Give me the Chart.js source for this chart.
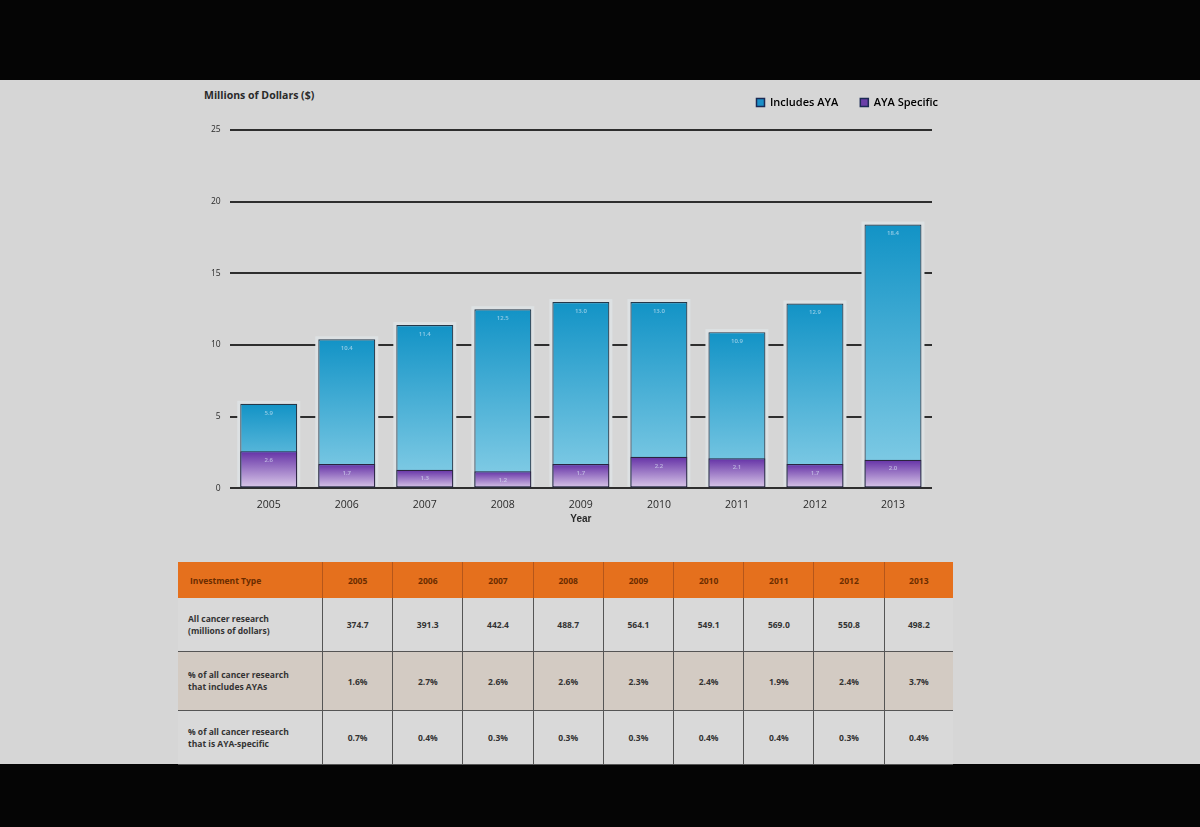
<!DOCTYPE html>
<html>
<head>
<meta charset="utf-8">
<script src="https://cdn.jsdelivr.net/npm/chart.js@4.4.1/dist/chart.umd.min.js"></script>
<style>
  body { margin: 0; background: #050505; width: 1200px; height: 827px; overflow: hidden; font-family: "Open Sans", "Noto Sans", sans-serif; }
  #slide { position: absolute; left: 0; top: 80px; width: 1200px; height: 684px; background: #d6d6d6; }
  #yTitle { position: absolute; left: 204px; top: 88px; font-size: 10.5px; font-weight: 700; color: #2a2a2a; }
  #chartBox { position: absolute; left: 190px; top: 75px; width: 770px; height: 454px; }
  table { position: absolute; left: 178px; top: 562px; width: 775px; border-collapse: collapse; font-size: 8.5px; font-weight: 700; color: #333; }
  th { background: #e5701d; color: #6a2c00; height: 34px; font-weight: 700; border-left: 1px solid #b5561a; }
  th:first-child { text-align: left; padding-left: 12px; border-left: none; }
  td { text-align: center; border-left: 1.5px solid #555; border-bottom: 1.5px solid #555; height: 51px; }
  td:first-child { text-align: left; padding-left: 10px; border-left: none; width: 133px; line-height: 12px; }
  tr.beige td { background: #d3cbc3; height: 56px; }
  tr.grey td { background: #d9d9d9; }
</style>
</head>
<body>
<div id="slide"></div>
<div id="yTitle">Millions of Dollars ($)</div>
<div id="chartBox"><canvas id="ayaChart"></canvas></div>
<table id="invTable"></table>

<script>
// données lues sur la photo (valeurs approximatives)
const YEARS = ["2005", "2006", "2007", "2008", "2009", "2010", "2011", "2012", "2013"]
const INCLUDES_AYA = [5.9, 10.4, 11.4, 12.5, 13.0, 13.0, 10.9, 12.9, 18.4]
const AYA_SPECIFIC = [2.6, 1.7, 1.3, 1.2, 1.7, 2.2, 2.1, 1.7, 2.0]
const Y_TICKS = [0, 5, 10, 15, 20, 25]

const ALL_RESEARCH = ["374.7", "391.3", "442.4", "488.7", "564.1", "549.1", "569.0", "550.8", "498.2"]
const PCT_INCLUDES = ["1.6%", "2.7%", "2.6%", "2.6%", "2.3%", "2.4%", "1.9%", "2.4%", "3.7%"]
const PCT_SPECIFIC = ["0.7%", "0.4%", "0.3%", "0.3%", "0.3%", "0.4%", "0.4%", "0.3%", "0.4%"]

// dégradé vertical pour chaque barre
function barGradient(top, bottom) {
  return function (context) {
    const chart = context.chart
    const y = chart.scales.y
    if (!chart.chartArea || !y || context.raw === undefined) return top
    const yTop = y.getPixelForValue(context.raw)
    const yBase = y.getPixelForValue(0)
    const g = chart.ctx.createLinearGradient(0, yTop, 0, yBase)
    g.addColorStop(0, top)
    g.addColorStop(1, bottom)
    return g
  }
}

// un peu plus d'espace sous la légende, sans la descendre
const legendGap = {
  id: 'legendGap',
  afterInit(chart) {
    const lg = chart.legend
    const fit = lg.fit.bind(lg)
    lg.fit = function () {
      fit()
      this.height += 12
    }
  }
}

// halo clair autour des barres + valeurs écrites en haut de chaque barre
const barExtras = {
  id: 'barExtras',
  beforeDatasetsDraw(chart) {
    const ctx = chart.ctx
    const meta = chart.getDatasetMeta(0)
    ctx.save()
    ctx.fillStyle = '#dde1e3'
    meta.data.forEach(bar => {
      const w = bar.width
      ctx.fillRect(bar.x - w / 2 - 3, bar.y - 3, w + 6, bar.base - bar.y + 2)
    })
    ctx.restore()
  },
  afterDatasetsDraw(chart) {
    const ctx = chart.ctx
    ctx.save()
    ctx.font = '600 6px "Open Sans", sans-serif'
    ctx.textAlign = 'center'
    ctx.textBaseline = 'top'
    ctx.fillStyle = 'rgba(225,238,250,0.6)'
    chart.data.datasets.forEach((ds, i) => {
      chart.getDatasetMeta(i).data.forEach((bar, j) => {
        ctx.fillText(ds.data[j].toFixed(1), bar.x, bar.y + 6)
      })
    })
    ctx.restore()
  }
}

const data = {
  labels: YEARS,
  datasets: [
    {
      label: 'Includes AYA',
      data: INCLUDES_AYA,
      order: 1,
      backgroundColor: barGradient('#1293c6', '#88cfe7'),
      borderColor: '#24384a',
      borderWidth: 1.2,
      borderSkipped: false
    },
    {
      label: 'AYA Specific',
      data: AYA_SPECIFIC,
      order: 0,
      backgroundColor: barGradient('#6431a6', '#dccbea'),
      borderColor: '#2a2440',
      borderWidth: 1.2,
      borderSkipped: false
    }
  ]
}

const config = {
  type: 'bar',
  data: data,
  options: {
    responsive: true,
    maintainAspectRatio: false,
    animation: false,
    datasets: { bar: { grouped: false, categoryPercentage: 1, barPercentage: 0.73 } },
    layout: { padding: { left: 12, right: 0, top: 0, bottom: 0 } },
    plugins: {
      legend: {
        position: 'top',
        align: 'end',
        labels: {
          boxWidth: 8,
          boxHeight: 8,
          color: '#2a2a2a',
          font: { size: 11, weight: '600', family: '"Open Sans", sans-serif' },
          padding: 22,
          generateLabels: (chart) => [
            { text: 'Includes AYA', fillStyle: '#1b8fc8', strokeStyle: '#1b2a55', lineWidth: 1.5, datasetIndex: 0 },
            { text: 'AYA Specific', fillStyle: '#6a3fa8', strokeStyle: '#1b2a55', lineWidth: 1.5, datasetIndex: 1 }
          ]
        }
      },
      tooltip: { enabled: false }
    },
    scales: {
      x: {
        grid: { display: false },
        border: { display: false },
        ticks: { color: '#2a2a2a', font: { size: 10.5, family: '"Open Sans", sans-serif' }, padding: 2 },
        title: { display: true, text: 'Year', color: '#2a2a2a', font: { size: 10, weight: '700' }, padding: { top: 0 } }
      },
      y: {
        min: 0,
        max: 25,
        afterBuildTicks: (axis) => { axis.ticks = Y_TICKS.map(v => ({ value: v })) },
        grid: { color: '#2e2e2e', lineWidth: 2, drawTicks: false },
        border: { display: false },
        ticks: { color: '#2a2a2a', font: { size: 8.5, family: '"Open Sans", sans-serif' }, padding: 9 }
      },
      // axe vide à droite, juste pour garder la marge sous la légende
      yRight: {
        position: 'right',
        grid: { display: false },
        border: { display: false },
        ticks: { display: false },
        afterFit: (axis) => { axis.width = 28 }
      }
    }
  },
  plugins: [legendGap, barExtras]
}

const ayaChart = new Chart(document.getElementById('ayaChart'), config)

// tableau sous le graphe
const table = document.getElementById('invTable')
let html = '<tr><th>Investment Type</th>' + YEARS.map(y => '<th>' + y + '</th>').join('') + '</tr>'
html += '<tr class="grey"><td>All cancer research<br>(millions of dollars)</td>' + ALL_RESEARCH.map(v => '<td>' + v + '</td>').join('') + '</tr>'
html += '<tr class="beige"><td>% of all cancer research<br>that includes AYAs</td>' + PCT_INCLUDES.map(v => '<td>' + v + '</td>').join('') + '</tr>'
html += '<tr class="grey"><td>% of all cancer research<br>that is AYA-specific</td>' + PCT_SPECIFIC.map(v => '<td>' + v + '</td>').join('') + '</tr>'
table.innerHTML = html
</script>
</body>
</html>
